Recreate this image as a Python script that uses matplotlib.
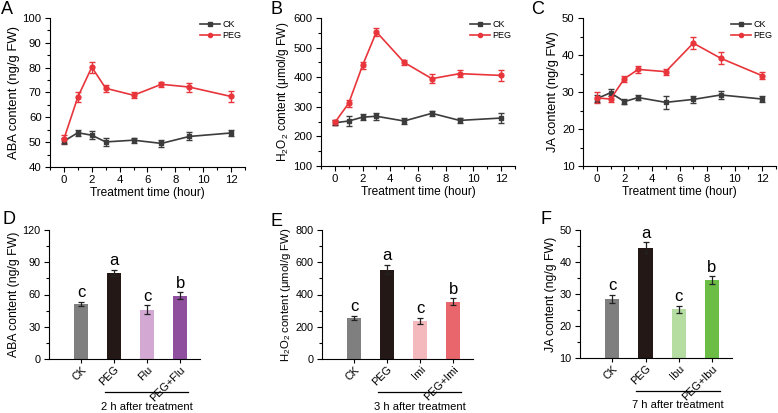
import numpy as np
import matplotlib
matplotlib.use("Agg")
import matplotlib.pyplot as plt
from matplotlib.lines import Line2D
from matplotlib.ticker import MultipleLocator
from matplotlib.transforms import blended_transform_factory

plt.rcParams['font.family'] = ['Liberation Sans', 'DejaVu Sans']
plt.rcParams['mathtext.fontset'] = 'custom'
plt.rcParams['mathtext.rm'] = 'Liberation Sans'

# time course data (panels A-C)
hours = [0, 1, 2, 3, 5, 7, 9, 12]

aba_ck = [50.4, 53.8, 52.8, 50.1, 50.8, 49.5, 52.3, 53.7]
aba_ck_err = [1.2, 1.3, 1.5, 1.5, 1.0, 1.3, 1.6, 1.2]
aba_peg = [51.3, 68.2, 80.2, 71.7, 68.9, 73.3, 72.2, 68.4]
aba_peg_err = [1.5, 2.0, 2.2, 1.4, 1.3, 1.0, 1.8, 2.1]

h2o2_ck = [246, 252, 265, 268, 252, 278, 254, 262]
h2o2_ck_err = [9, 18, 10, 12, 10, 8, 8, 16]
h2o2_peg = [247, 312, 440, 553, 450, 395, 412, 406]
h2o2_peg_err = [8, 12, 12, 14, 8, 15, 11, 18]

ja_ck = [28.2, 29.8, 27.4, 28.5, 27.2, 28.0, 29.2, 28.1]
ja_ck_err = [1.0, 0.9, 0.7, 0.6, 1.8, 0.9, 1.2, 0.8]
ja_peg = [28.4, 28.1, 33.6, 36.1, 35.5, 43.2, 39.1, 34.4]
ja_peg_err = [1.5, 0.8, 0.8, 1.0, 0.8, 1.6, 1.6, 0.9]

# inhibitor data (panels D-F)
aba_groups = ['CK', 'PEG', 'Flu', 'PEG+Flu']
aba_bar = [51, 80, 46, 59]
aba_bar_err = [2.0, 3.0, 4.0, 3.0]
aba_letters = ['c', 'a', 'c', 'b']

h2o2_groups = ['CK', 'PEG', 'Imi', 'PEG+Imi']
h2o2_bar = [255, 555, 237, 355]
h2o2_bar_err = [14, 30, 18, 22]
h2o2_letters = ['c', 'a', 'c', 'b']

ja_groups = ['CK', 'PEG', 'Ibu', 'PEG+Ibu']
ja_bar = [28.5, 44.5, 25.3, 34.4]
ja_bar_err = [1.2, 1.6, 1.1, 1.2]
ja_letters = ['c', 'a', 'c', 'b']

W, H = 778, 413
CK_COLOR, PEG_COLOR = '#3c3c3c', '#e8353b'
fig = plt.figure(figsize=(W / 100, H / 100), dpi=100)


def box(l, r, t, b):
    return [l / W, (H - b) / H, (r - l) / W, (b - t) / H]


def panel_letter(letter, x, y):
    fig.text(x / W, 1 - y / H, letter, fontsize=13, ha='left', va='center')


def style(ax, size):
    ax.spines['top'].set_visible(False)
    ax.spines['right'].set_visible(False)
    ax.tick_params(which='both', direction='out', labelsize=size, width=0.8,
                   pad=2.5)
    ax.tick_params(which='major', length=3.5)
    ax.tick_params(which='minor', length=2)


def line_panel(rect, ck, ck_err, peg, peg_err, ylim, ystep, ylabel, lsize):
    ax = fig.add_axes(box(*rect))
    ax.errorbar(hours, ck, yerr=ck_err, color=CK_COLOR, marker='s', ms=3.5,
                lw=1.2, capsize=2, elinewidth=0.9)
    ax.errorbar(hours, peg, yerr=peg_err, color=PEG_COLOR, marker='o', ms=3.5,
                lw=1.2, capsize=2, elinewidth=0.9)
    ax.set_xlim(-1, 13)
    ax.set_ylim(*ylim)
    ax.xaxis.set_major_locator(MultipleLocator(2))
    ax.xaxis.set_minor_locator(MultipleLocator(1))
    ax.yaxis.set_major_locator(MultipleLocator(ystep))
    ax.yaxis.set_minor_locator(MultipleLocator(ystep / 2))
    style(ax, 8.2)
    ax.set_xlabel('Treatment time (hour)', fontsize=8.6, labelpad=1)
    ax.set_ylabel(ylabel, fontsize=lsize, labelpad=2)
    handles = [Line2D([], [], color=CK_COLOR, marker='s', ms=3, lw=1.2),
               Line2D([], [], color=PEG_COLOR, marker='o', ms=3, lw=1.2)]
    ax.legend(handles, ['CK', 'PEG'], loc='upper right', fontsize=6.5,
              frameon=False, handlelength=2.2, handletextpad=0.3,
              labelspacing=0.25, borderaxespad=0,
              bbox_to_anchor=(1.0, 1.01))
    return ax


def bar_panel(rect, groups, vals, errs, letters, colors, ylim, ystep,
              ylabel, lsize, caption):
    ax = fig.add_axes(box(*rect))
    x = np.arange(len(groups))
    ax.bar(x, vals, width=0.43, color=colors, yerr=errs, capsize=2,
           error_kw=dict(elinewidth=0.9, capthick=0.9, ecolor='#222222'))
    span = ylim[1] - ylim[0]
    for xi, v, e, t in zip(x, vals, errs, letters):
        ax.text(xi, v + e + span * 0.012, t, ha='center', va='bottom',
                fontsize=12)
    ax.set_xlim(-0.97, 3.6)
    ax.set_ylim(*ylim)
    ax.yaxis.set_major_locator(MultipleLocator(ystep))
    ax.yaxis.set_minor_locator(MultipleLocator(ystep / 2))
    ax.set_xticks(x)
    ax.set_xticklabels(groups, rotation=45, ha='right', va='top',
                       rotation_mode='anchor', fontsize=7.8)
    style(ax, 7.8)
    ax.tick_params(axis='x', which='major', length=3, pad=1)
    ax.set_ylabel(ylabel, fontsize=lsize, labelpad=2)
    tr = blended_transform_factory(ax.transData, ax.transAxes)
    ax.plot([0.72, 3.25], [-0.258, -0.258], color='black', lw=0.9,
            transform=tr, clip_on=False)
    ax.text(1.98, -0.37, caption, transform=tr, ha='center', va='center',
            fontsize=8)
    return ax


line_panel((50, 245, 18, 167), aba_ck, aba_ck_err, aba_peg, aba_peg_err,
           (40, 100), 10, 'ABA content (ng/g FW)', 9.4)
line_panel((321, 515, 18, 166), h2o2_ck, h2o2_ck_err, h2o2_peg, h2o2_peg_err,
           (100, 600), 100, r'H$_2$O$_2$ content (μmol/g FW)', 8.6)
line_panel((583, 776, 18, 166), ja_ck, ja_ck_err, ja_peg, ja_peg_err,
           (10, 50), 10, 'JA content (ng/g FW)', 9.3)

grey, black = '#7f7f7f', '#231815'
bar_panel((49, 200, 230, 359), aba_groups, aba_bar, aba_bar_err, aba_letters,
          [grey, black, '#d3a9d3', '#8e4f9f'], (0, 120), 30,
          'ABA content (ng/g FW)', 8.8, '2 h after treatment')
bar_panel((322, 473, 230, 359), h2o2_groups, h2o2_bar, h2o2_bar_err,
          h2o2_letters, [grey, black, '#f4b9bc', '#e9676c'], (0, 800), 200,
          r'H$_2$O$_2$ content (μmol/g FW)', 8.2, '3 h after treatment')
bar_panel((580, 732, 230, 358), ja_groups, ja_bar, ja_bar_err, ja_letters,
          [grey, black, '#b5dca1', '#6bbd45'], (10, 50), 10,
          'JA content (ng/g FW)', 8.8, '7 h after treatment')

panel_letter('A', 1, 9)
panel_letter('B', 271, 9)
panel_letter('C', 531, 9)
panel_letter('D', 2, 220)
panel_letter('E', 271, 221)
panel_letter('F', 541, 220)

fig.savefig('out.png', dpi=100)
